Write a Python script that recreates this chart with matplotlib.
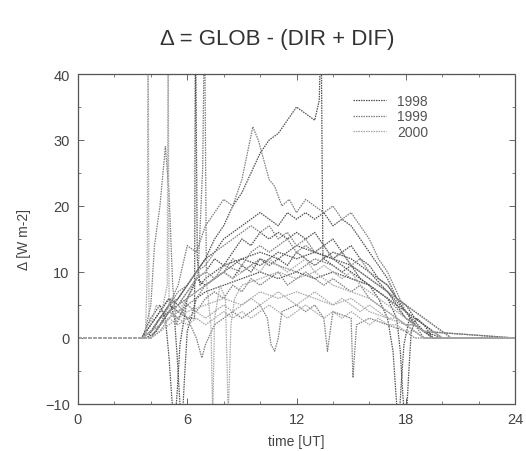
import matplotlib
matplotlib.use("Agg")
import matplotlib.pyplot as plt
from matplotlib.lines import Line2D
from matplotlib.ticker import MultipleLocator

plt.rcParams['font.family'] = ['Liberation Sans', 'DejaVu Sans']

# ---------------- data ----------------
years = ["1998", "1999", "2000"]
year_colors = ["#505050", "#7e7e7e", "#a8a8a8"]

hours = [0, 3.5, 4.0, 4.5, 5.0, 5.5, 6.0, 6.5, 7.0, 7.5, 8.0, 8.5, 9.0, 9.5, 10.0,
         10.5, 11.0, 11.5, 12.0, 12.5, 13.0, 13.5, 14.0, 14.5, 15.0, 15.5, 16.0,
         16.5, 17.0, 17.5, 18.0, 18.5, 19.0, 19.5, 20.0, 20.5, 24]

d98a = [0, 0, 1, 3, 5, 6, 8, 10, 12, 13, 15, 16, 17, 18, 19, 18, 17, 19, 18, 19, 18,
        19, 17, 18, 17, 15, 13, 11, 9, 6, 4, 2, 1, 0, 0, 0, 0]
d98b = [0, 0, 2, 4, 6, 5, 7, 9, 10, 12, 11, 13, 15, 14, 16, 15, 16, 15, 16, 15, 16,
        14, 15, 13, 14, 12, 11, 9, 8, 6, 5, 3, 2, 1, 0, 0, 0]
d98c = [0, 0, 1, 3, 4, 5, 6, 7, 8, 9, 10, 9, 11, 10, 12, 11, 12, 11, 13, 12, 11,
        12, 11, 10, 11, 9, 8, 7, 6, 5, 4, 3, 2, 1, 0, 0, 0]
d99a = [0, 0, 0, 2, 4, 3, 5, 6, 8, 9, 10, 12, 11, 13, 14, 13, 14, 15, 13, 14, 13,
        14, 12, 13, 11, 12, 10, 9, 8, 6, 5, 4, 3, 2, 1, 0, 0]
d99b = [0, 0, 1, 2, 3, 4, 5, 4, 6, 7, 6, 8, 7, 9, 8, 9, 10, 8, 9, 10, 9,
        8, 9, 8, 7, 8, 6, 5, 4, 3, 2, 2, 1, 0, 0, 0, 0]
d99c = [0, 0, 1, 3, 5, 7, 8, 10, 11, 13, 14, 15, 16, 17, 16, 17, 15, 16, 14, 15, 13,
        14, 12, 13, 11, 10, 9, 8, 7, 6, 5, 4, 3, 2, 1, 0, 0]
d00a = [0, 0, 0, 1, 3, 4, 6, 7, 8, 9, 10, 9, 10, 11, 10, 12, 11, 10, 11, 12, 10,
        11, 10, 9, 10, 8, 7, 6, 5, 4, 3, 2, 1, 1, 0, 0, 0]
d00b = [0, 0, 1, 2, 3, 2, 3, 4, 3, 4, 5, 4, 5, 6, 5, 6, 7, 6, 5, 6, 7,
        6, 5, 6, 5, 4, 5, 4, 3, 3, 2, 2, 1, 1, 0, 0, 0]
d00c = [0, 0, 0, 1, 2, 3, 2, 3, 2, 3, 4, 3, 4, 3, 4, 5, 4, 3, 4, 5, 4,
        3, 4, 3, 4, 3, 2, 3, 2, 2, 1, 1, 0, 0, 0, 0, 0]

# curve rising to ~35 with a spike at 13.4 UT (1998)
t_hi = [0, 3.8, 4.3, 5.0, 6.0, 7.0, 7.5, 8.0, 8.5, 9.0, 9.5, 10.0, 10.5, 11.0, 11.5, 12.0,
        12.5, 13.0, 13.25, 13.35, 13.45, 14.0, 15.0, 16.0, 17.0, 18.0, 19.0, 20.0, 24]
v_hi = [0, 0, 1, 4, 8, 12, 15, 17, 20, 22, 25, 28, 30, 31, 33, 35,
        34, 33, 36, 48, 12, 13, 12, 10, 7, 3, 1, 0, 0]

# curve peaking ~32 at 9.6 UT (1999)
t_pk = [0, 4.0, 4.5, 5.5, 6.0, 6.5, 7.0, 7.5, 8.0, 8.5, 9.0, 9.3, 9.6, 9.9, 10.2, 10.5,
        10.8, 11.2, 11.6, 12.0, 12.5, 13.0, 13.5, 14.0, 14.5, 15.0, 15.5, 16.0, 16.5,
        17.0, 17.5, 18.0, 18.5, 19.0, 24]
v_pk = [0, 0, 2, 8, 14, 13, 17, 19, 21, 20, 24, 28, 32, 30, 27, 24,
        23, 20, 21, 19, 21, 20, 19, 20, 18, 19, 17, 15, 12,
        10, 7, 4, 2, 0, 0]

# early spikes (2000)
t_sp1 = [0, 3.7, 3.8, 3.85, 3.9, 4.0, 4.3, 4.6, 4.9, 4.95, 5.0, 5.5, 6.0, 7.0, 8.0, 9.0,
         10.0, 11.0, 12.0, 13.0, 14.0, 15.0, 16.0, 17.0, 18.0, 19.0, 24]
v_sp1 = [0, 0, 10, 50, 3, 2, 5, 4, 8, 50, 4, 3, 4, 5, 6, 5,
         7, 6, 7, 6, 5, 6, 4, 3, 2, 0, 0]

# morning peak ~29 at 4.85 UT and spike near 6.9 UT (1999)
t_sp2 = [0, 3.6, 4.0, 4.2, 4.5, 4.8, 5.0, 5.2, 5.4, 5.7, 6.0, 6.4, 6.6, 6.85, 6.95, 7.05,
         7.5, 8.0, 9.0, 10.0, 11.0, 12.0, 13.0, 14.0, 15.0, 16.0, 17.0, 18.0, 19.0, 24]
v_sp2 = [0, 0, 5, 14, 20, 29, 22, 8, 2, 4, 6, 8, 10, 26, 50, 10,
         9, 11, 10, 12, 11, 10, 12, 11, 9, 8, 6, 3, 1, 0]

# dark spike at 6.5 UT (1998)
t_sp3 = [0, 3.8, 4.5, 5.0, 5.5, 6.0, 6.4, 6.45, 6.55, 6.7, 7.0, 7.5, 8.0, 9.0, 10.0, 11.0,
         12.0, 13.0, 14.0, 15.0, 16.0, 17.0, 18.0, 19.0, 24]
v_sp3 = [0, 0, 3, 5, 4, 3, 3, 50, 12, 8, 9, 10, 11, 12, 13, 12,
         14, 13, 12, 11, 9, 7, 4, 1, 0]

# sunrise / sunset dips (1998)
t_dp1 = [0, 3.5, 4.0, 4.5, 4.8, 5.0, 5.15, 5.3, 5.45, 5.6, 6.0, 6.5, 7.0, 8.0, 9.0, 10.0,
         11.0, 12.0, 13.0, 14.0, 15.0, 16.0, 16.5, 17.0, 17.3, 17.45, 17.6, 17.75, 17.9,
         18.2, 18.5, 19.0, 19.5, 24]
v_dp1 = [0, 0, 3, 5, 3, -3, -9, -14, -8, -1, 6, 9, 8, 10, 12, 11,
         13, 12, 13, 12, 10, 8, 6, 3, -2, -8, -14, -7, -1,
         3, 2, 1, 0, 0]
t_dp2 = [0, 3.5, 4.0, 4.5, 5.0, 5.3, 5.45, 5.6, 5.7, 5.85, 6.0, 6.5, 7.0, 8.0, 9.0, 10.0,
         11.0, 12.0, 13.0, 14.0, 15.0, 16.0, 16.5, 17.0, 17.5, 17.7, 17.85, 18.0, 18.15,
         18.3, 18.6, 19.0, 19.5, 24]
v_dp2 = [0, 0, 2, 4, 6, 3, -3, -10, -14, -6, 1, 6, 7, 8, 9, 10,
         9, 10, 9, 10, 9, 8, 7, 6, 3, -2, -9, -14, -6,
         1, 3, 2, 0, 0]

# light curve with morning dips to the bottom (2000)
t_dp3 = [0, 4.0, 4.5, 5.0, 5.5, 6.0, 6.5, 7.0, 7.3, 7.4, 7.5, 7.8, 8.1, 8.25, 8.4, 8.6, 9.0,
         10.0, 11.0, 12.0, 13.0, 14.0, 15.0, 16.0, 17.0, 18.0, 19.0, 24]
v_dp3 = [0, 0, 1, 3, 5, 7, 9, 10, 2, -12, 3, 8, 6, -12, 2, 6, 8,
         9, 10, 9, 10, 8, 7, 6, 4, 2, 0, 0]

# low curve with small dips (1999)
t_lo = [0, 4.0, 4.5, 5.0, 5.5, 6.0, 6.5, 6.8, 7.0, 7.5, 8.0, 8.5, 9.0, 9.5, 10.0, 10.4,
        10.6, 10.8, 11.0, 11.2, 12.0, 12.5, 13.0, 13.5, 13.7, 14.0, 15.0, 15.1, 15.3, 16.0,
        17.0, 18.0, 18.5, 24]
v_lo = [0, 0, 2, 4, 5, 3, 0, -3, -1, 2, 3, 4, 3, 4, 5, 3,
        -1, -2, 0, 4, 5, 4, 5, 3, -2, 4, 3, -6, 2, 3,
        2, 1, 0, 0]

curves = [
    (hours, d98a, 0), (hours, d98b, 0), (hours, d98c, 0), (t_hi, v_hi, 0),
    (t_sp3, v_sp3, 0), (t_dp1, v_dp1, 0), (t_dp2, v_dp2, 0),
    (hours, d99a, 1), (hours, d99b, 1), (hours, d99c, 1), (t_pk, v_pk, 1),
    (t_sp2, v_sp2, 1), (t_lo, v_lo, 1),
    (hours, d00a, 2), (hours, d00b, 2), (hours, d00c, 2), (t_sp1, v_sp1, 2),
    (t_dp3, v_dp3, 2),
]

x_ticks = [0, 6, 12, 18, 24]
y_ticks = [-10, 0, 10, 20, 30, 40]

# ---------------- figure ----------------
W, H = 526, 452
fig = plt.figure(figsize=(W / 100, H / 100), dpi=100)
ax = fig.add_axes([78 / W, 1 - 405 / H, (515 - 78) / W, (405 - 75) / H])

dot = (0, (1.2, 0.8))
for t, v, yi in curves:
    ax.plot(t, v, color=year_colors[yi], lw=0.9, linestyle=dot)

ax.set_xlim(0, 24)
ax.set_ylim(-10, 40)
ax.set_xticks(x_ticks)
ax.set_yticks(y_ticks)
ax.xaxis.set_minor_locator(MultipleLocator(2))
ax.yaxis.set_minor_locator(MultipleLocator(5))
ax.tick_params(which='both', direction='in', top=True, right=True,
               colors='#666666', labelcolor='#444444', labelsize=10.5, pad=6)
ax.tick_params(which='major', length=4, width=0.7)
ax.tick_params(which='minor', length=2, width=0.6)
for s in ax.spines.values():
    s.set_color('#555555')
    s.set_linewidth(0.9)
    s.set_linestyle(dot)

fig.text(277 / W, 1 - 40 / H, "Δ = GLOB - (DIR + DIF)", ha='center', va='center',
         fontsize=16, color='#333333')
fig.text(296 / W, 1 - 442 / H, "time [UT]", ha='center', va='center',
         fontsize=10, color='#444444')
fig.text(24 / W, 1 - 240 / H, "Δ [W m-2]", ha='center', va='center', rotation=90,
         fontsize=10, color='#444444')

handles = [Line2D([], [], color=c, lw=0.9, linestyle=dot) for c in year_colors]
ax.legend(handles, years, loc='upper left', bbox_to_anchor=(353 / W, 1 - 95 / H),
          bbox_transform=fig.transFigure, frameon=False, fontsize=10,
          labelspacing=0.1, handlelength=2.4, handletextpad=0.8, borderpad=0,
          borderaxespad=0, labelcolor='#555555')

fig.savefig("out.png", dpi=100)
